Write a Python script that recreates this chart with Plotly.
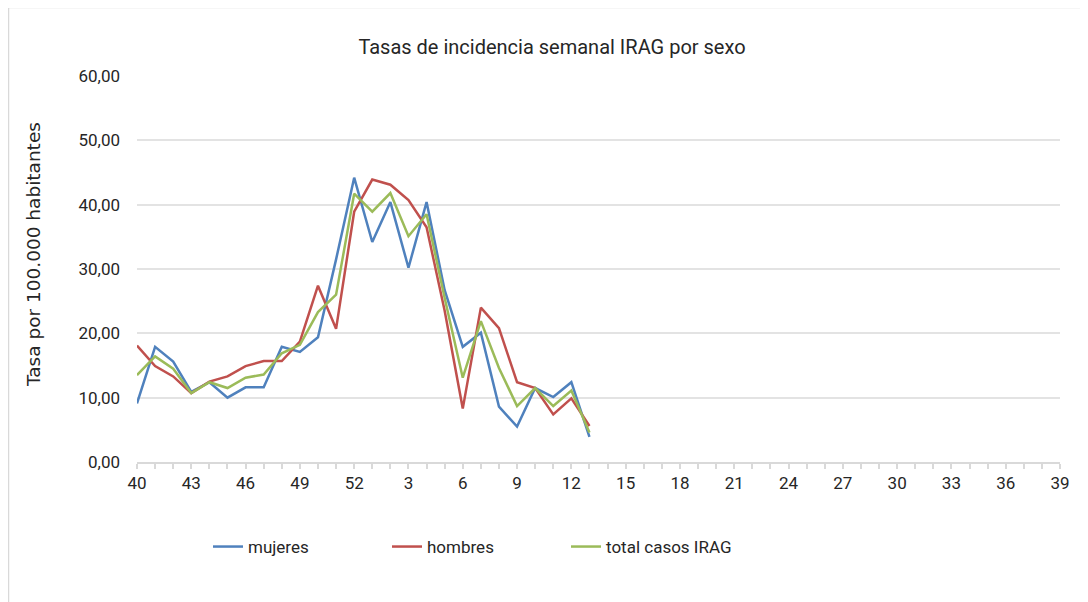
import plotly.graph_objects as go

weeks = [40, 41, 42, 43, 44, 45, 46, 47, 48, 49, 50, 51, 52] + list(range(1, 40))

mujeres = [9.1, 17.9, 15.6, 10.9, 12.4, 10.0, 11.6, 11.6, 17.9, 17.1, 19.4, 31.5, 44.2,
           34.2, 40.4, 30.2, 40.4, 26.7, 17.9, 20.1, 8.6, 5.5, 11.5, 10.1, 12.4, 3.9]
hombres = [18.1, 14.9, 13.3, 10.7, 12.5, 13.3, 14.9, 15.7, 15.7, 18.7, 27.4, 20.7, 38.9,
           43.9, 43.1, 40.7, 36.5, 23.5, 8.3, 24.0, 20.8, 12.4, 11.5, 7.4, 9.9, 5.6]
total = [13.5, 16.4, 14.5, 10.7, 12.4, 11.5, 13.1, 13.6, 16.9, 18.2, 23.3, 26.0, 41.7,
         38.9, 41.8, 35.1, 38.5, 25.5, 13.1, 21.9, 14.6, 8.7, 11.5, 8.7, 11.1, 4.6]

series_names = ["mujeres", "hombres", "total casos IRAG"]
series_values = [mujeres, hombres, total]
colors = ["#4F81BD", "#C0504D", "#9BBB59"]

title_text = "Tasas de incidencia semanal IRAG por sexo"
y_title = "Tasa por 100.000 habitantes"

idx = list(range(len(weeks)))
ticktext = [str(w) if i % 3 == 0 else "" for i, w in enumerate(weeks)]

font_main = "Liberation Sans Narrow, Roboto, Arial, sans-serif"

# the page offsets the figure by 8px; positions below are figure coordinates
OFF = 8
PL, PR, PT, PB = 137 - OFF, 1060 - OFF, 76 - OFF, 462 - OFF
W, H = 1088, 602
PW, PH = PR - PL, PB - PT


def px_x(x):
    return (x - OFF - PL) / PW


def px_y(y):
    return (PB - (y - OFF)) / PH


fig = go.Figure()
for name, vals, col in zip(series_names, series_values, colors):
    padded = vals + [None] * (len(weeks) - len(vals))
    fig.add_trace(go.Scatter(x=idx, y=padded, mode="lines", name=name,
                             line=dict(color=col, width=2.5)))

fig.update_layout(
    width=W, height=H,
    margin=dict(l=PL, r=W - PR, t=PT, b=H - PB),
    paper_bgcolor="white", plot_bgcolor="white",
    separators=",.",
    title=dict(text=title_text, x=0.5, xanchor="center", y=1 - (47 - OFF) / H, yanchor="middle",
               font=dict(family=font_main, size=20, color="#262626")),
    font=dict(family=font_main, size=17, color="#262626"),
    showlegend=True,
    legend=dict(orientation="h", x=px_x(208), xanchor="left",
                y=px_y(547), yanchor="middle",
                entrywidth=134, entrywidthmode="pixels",
                font=dict(family=font_main, size=17, color="#262626")),
    xaxis=dict(range=[0, len(weeks) - 1], tickmode="array", tickvals=idx, ticktext=ticktext,
               showgrid=False, showline=True, linecolor="#d9d9d9", linewidth=1.5,
               ticks="outside", ticklen=5, tickcolor="#d9d9d9", tickwidth=1.5,
               zeroline=False, tickangle=0,
               tickfont=dict(family=font_main, size=17, color="#262626")),
    yaxis=dict(range=[0, 60], tickmode="linear", tick0=0, dtick=10, tickformat=".2f",
               showgrid=True, gridcolor="#e3e3e3", gridwidth=1.5,
               showline=False, zeroline=False, ticks="", ticklabelstandoff=16,
               tickfont=dict(family=font_main, size=17, color="#262626")),
    annotations=[dict(text=y_title, textangle=-90, showarrow=False,
                      xref="paper", yref="paper",
                      x=px_x(33), y=px_y(255),
                      xanchor="center", yanchor="middle",
                      font=dict(family="DejaVu Sans, Verdana, sans-serif", size=18.5, color="#262626"))],
    shapes=[dict(type="rect", xref="paper", yref="paper",
                 x0=px_x(8.5), x1=px_x(1110),
                 y0=px_y(640), y1=px_y(7.5),
                 line=dict(color="#d9d9d9", width=1.5), fillcolor="rgba(0,0,0,0)", layer="below")],
)

fig.write_html("out.html")
